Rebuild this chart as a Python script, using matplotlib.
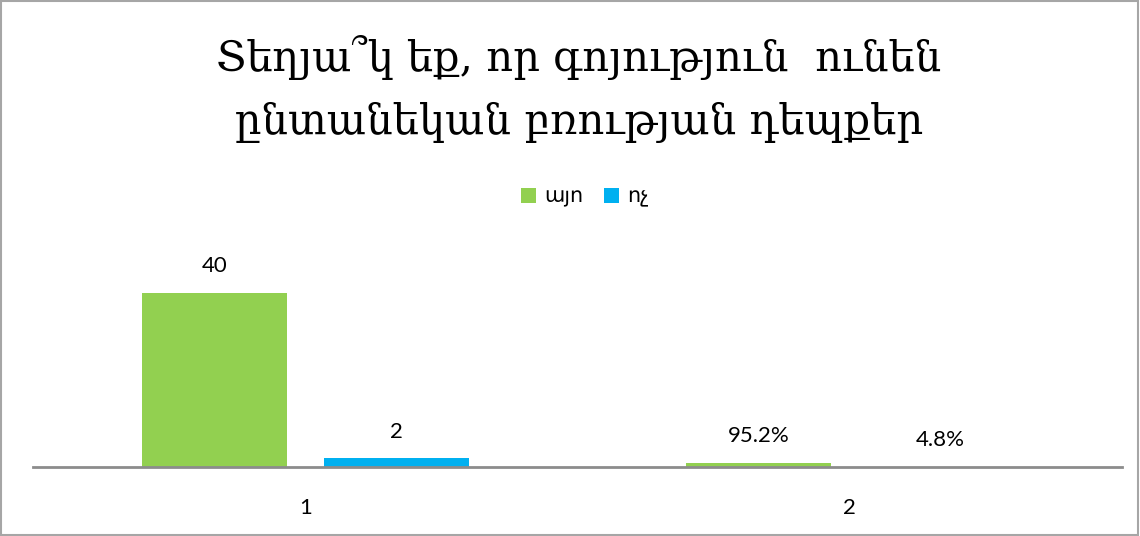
import matplotlib.pyplot as plt
import numpy as np
from matplotlib.patches import Rectangle

# data
categories = ['1', '2']
yes_vals = [40, 0.952]
no_vals = [2, 0.048]
yes_labels = ['40', '95.2%']
no_labels = ['2', '4.8%']
series_names = ['այո', 'ոչ']

green = '#92d050'
blue = '#00b0f0'
sans = ['Lato', 'DejaVu Sans']

fig = plt.figure(figsize=(11.4, 5.36), dpi=100)
ax = fig.add_axes([33/1140, 69/536, 1089/1140, 237/536])

x = np.arange(len(categories))
off = 0.167
w = 0.266
b1 = ax.bar(x - off, yes_vals, w, color=green, label=series_names[0])
b2 = ax.bar(x + off, no_vals, w, color=blue, label=series_names[1])

for bars, labs in ((b1, yes_labels), (b2, no_labels)):
    for r, lab in zip(bars, labs):
        ax.annotate(lab, (r.get_x() + r.get_width()/2, r.get_height()),
                    xytext=(0, 12), textcoords='offset points',
                    ha='center', va='bottom', fontsize=16, family=sans)

ax.set_xlim(-0.5, 1.5)
ax.set_ylim(0, 40*237/174)
ax.set_yticks([])
ax.set_xticks(x)
ax.set_xticklabels(categories, family=sans, fontsize=16)
ax.tick_params(axis='x', length=0, pad=22)
for s in ('top', 'right', 'left'):
    ax.spines[s].set_visible(False)
ax.spines['bottom'].set_color('#8c8c8c')
ax.spines['bottom'].set_linewidth(2)

title_kw = dict(ha='center', va='center', fontsize=30, family=['DejaVu Serif'])
fig.text(0.508, 1 - 57/536, 'Տեղյա՞կ եք, որ գոյություն  ունեն', **title_kw)
fig.text(0.508, 1 - 122/536, 'ընտանեկան բռության դեպքեր', **title_kw)

fig.legend(handles=[b1, b2], loc='center', bbox_to_anchor=(0.513, 1 - 197/536),
           ncol=2, frameon=False, prop={'family': sans, 'size': 15},
           handlelength=0.7, handleheight=0.7, columnspacing=1.0, handletextpad=0.4)

fig.patches.append(Rectangle((0.001, 0.002), 0.997, 0.996, transform=fig.transFigure,
                             fill=False, edgecolor='#a6a6a6', linewidth=1.5))

fig.savefig('out.png', dpi=100)
